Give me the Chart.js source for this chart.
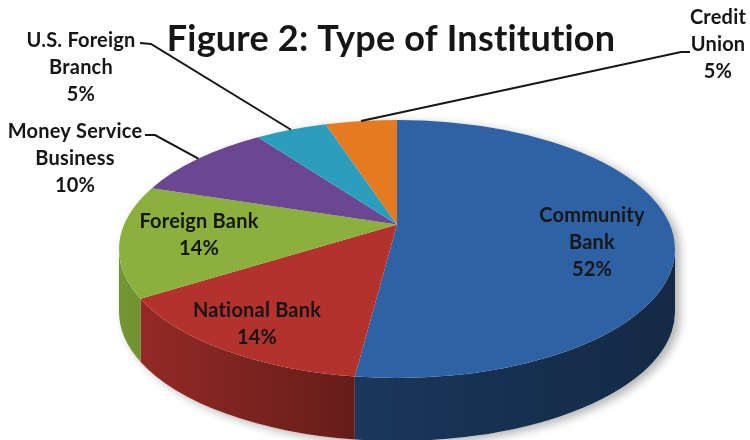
<!DOCTYPE html>
<html>
<head>
<meta charset="utf-8">
<script src="https://cdn.jsdelivr.net/npm/chart.js@4"></script>
<style>
  html, body { margin: 0; padding: 0; background: #fff; }
  #wrap { width: 750px; height: 440px; }
</style>
</head>
<body>
<div id="wrap"><canvas id="chart" width="750" height="440"></canvas></div>
<script>
// categories and shares (percent)
const institutions = [['Community', 'Bank'], ['National Bank'], ['Foreign Bank'], ['Money Service', 'Business'], ['U.S. Foreign', 'Branch'], ['Credit', 'Union']];
const shares = [52, 14, 14, 10, 5, 5];
const sliceColors = ['#2f62a5', '#b3322e', '#8bb03d', '#6a4790', '#2b9dbd', '#e67a20'];

// pie disc as seen in perspective
const CX = 397, CY = 249, RX = 278, RY = 129, DEPTH = 63, TILT = -0.19;
const FONT = 'Lato, "Open Sans", sans-serif';

// where each label block starts (center x, first line y); callout lines start at "from"
const labelLayout = [
  { x: 592, y: 216 },
  { x: 257, y: 311 },
  { x: 199, y: 222 },
  { x: 75, y: 132, from: [145, 135], elbow: [155, 135] },
  { x: 81, y: 41, from: [140, 43], elbow: [151, 44] },
  { x: 718, y: 18, from: [690, 52], elbow: [681, 52] }
];

// circle angle -> point on the tilted ellipse
function project(theta, r = 1) {
  const c = Math.cos(theta) * r, s = Math.sin(theta) * r;
  const w = 1 + TILT * s;
  return { x: CX + RX * c * Math.sqrt(1 - TILT * TILT) / w, y: CY + RY * (s + TILT) / w };
}
function ellipseAngle(p) {
  return Math.atan2((p.y - CY) / RY, (p.x - CX) / RX);
}
function shade(hex, k) {
  const n = parseInt(hex.slice(1), 16);
  const r = (n >> 16) & 255, g = (n >> 8) & 255, b = n & 255;
  return `rgb(${Math.round(r * k)},${Math.round(g * k)},${Math.round(b * k)})`;
}

const perspectivePie = {
  id: 'perspectivePie',
  beforeDraw(chart) {
    // no "ti" ligature in the title
    chart.ctx.letterSpacing = '0.2px';
  },
  beforeDatasetsDraw(chart) {
    const ctx = chart.ctx;
    const arcs = chart.getDatasetMeta(0).data;
    const colors = chart.data.datasets[0].backgroundColor;
    const V = project(0, 0);

    ctx.save();
    // soft drop shadow under the whole disc
    ctx.save();
    ctx.shadowColor = 'rgba(0,0,0,0.3)';
    ctx.shadowBlur = 10;
    ctx.shadowOffsetX = 5;
    ctx.shadowOffsetY = 3;
    ctx.beginPath();
    ctx.ellipse(CX, CY, RX, RY, 0, Math.PI, 0, false);
    ctx.ellipse(CX, CY + DEPTH, RX, RY, 0, 0, Math.PI, false);
    ctx.closePath();
    ctx.fillStyle = '#fff';
    ctx.fill();
    ctx.restore();

    // side walls (front half of the rim only)
    arcs.forEach((arc, i) => {
      let a = ellipseAngle(project(arc.startAngle));
      let b = ellipseAngle(project(arc.endAngle));
      if (b <= a) b += Math.PI * 2;
      [0, Math.PI * 2].forEach(off => {
        const lo = Math.max(a, off), hi = Math.min(b, off + Math.PI);
        if (hi <= lo) return;
        const g = ctx.createLinearGradient(CX - RX, 0, CX + RX, 0);
        g.addColorStop(0, shade(colors[i], 0.85));
        g.addColorStop(0.45, shade(colors[i], 0.55));
        g.addColorStop(1, shade(colors[i], 0.42));
        ctx.beginPath();
        ctx.ellipse(CX, CY, RX, RY, 0, lo, hi, false);
        ctx.ellipse(CX, CY + DEPTH, RX, RY, 0, hi, lo, true);
        ctx.closePath();
        ctx.fillStyle = g;
        ctx.fill();
      });
    });

    // top faces
    arcs.forEach((arc, i) => {
      const p = project(arc.startAngle);
      let a = ellipseAngle(p);
      let b = ellipseAngle(project(arc.endAngle));
      if (b <= a) b += Math.PI * 2;
      ctx.beginPath();
      ctx.moveTo(V.x, V.y);
      ctx.lineTo(p.x, p.y);
      ctx.ellipse(CX, CY, RX, RY, 0, a, b, false);
      ctx.closePath();
      ctx.fillStyle = colors[i];
      ctx.fill();
    });
    ctx.restore();
    return false;
  },
  afterDraw(chart) {
    const ctx = chart.ctx;
    const arcs = chart.getDatasetMeta(0).data;
    ctx.save();
    ctx.fillStyle = '#161616';
    ctx.strokeStyle = '#161616';
    ctx.font = `bold 20px ${FONT}`;
    ctx.textAlign = 'center';
    ctx.textBaseline = 'middle';
    arcs.forEach((arc, i) => {
      const box = labelLayout[i];
      const lines = [...chart.data.labels[i], `${chart.data.datasets[0].data[i]}%`];
      lines.forEach((t, k) => ctx.fillText(t, box.x, box.y + k * 27));
      if (box.from) {
        const mid = (arc.startAngle + arc.endAngle) / 2;
        const rim = project(mid);
        ctx.lineWidth = 2;
        ctx.beginPath();
        ctx.moveTo(box.from[0], box.from[1]);
        ctx.lineTo(box.elbow[0], box.elbow[1]);
        ctx.lineTo(rim.x, rim.y);
        ctx.stroke();
      }
    });
    ctx.restore();
  }
};

new Chart(document.getElementById('chart'), {
  type: 'pie',
  data: {
    labels: institutions,
    datasets: [{ data: shares, backgroundColor: sliceColors, borderWidth: 0 }]
  },
  options: {
    responsive: false,
    animation: false,
    layout: { padding: { left: 32 } },
    plugins: {
      legend: { display: false },
      tooltip: { enabled: false },
      title: {
        display: true,
        text: 'Figure 2: Type of Institution',
        color: '#161616',
        font: { family: FONT, size: 36, weight: 'bold' },
        padding: { top: 18, bottom: 0 }
      }
    }
  },
  plugins: [perspectivePie]
});
</script>
</body>
</html>
